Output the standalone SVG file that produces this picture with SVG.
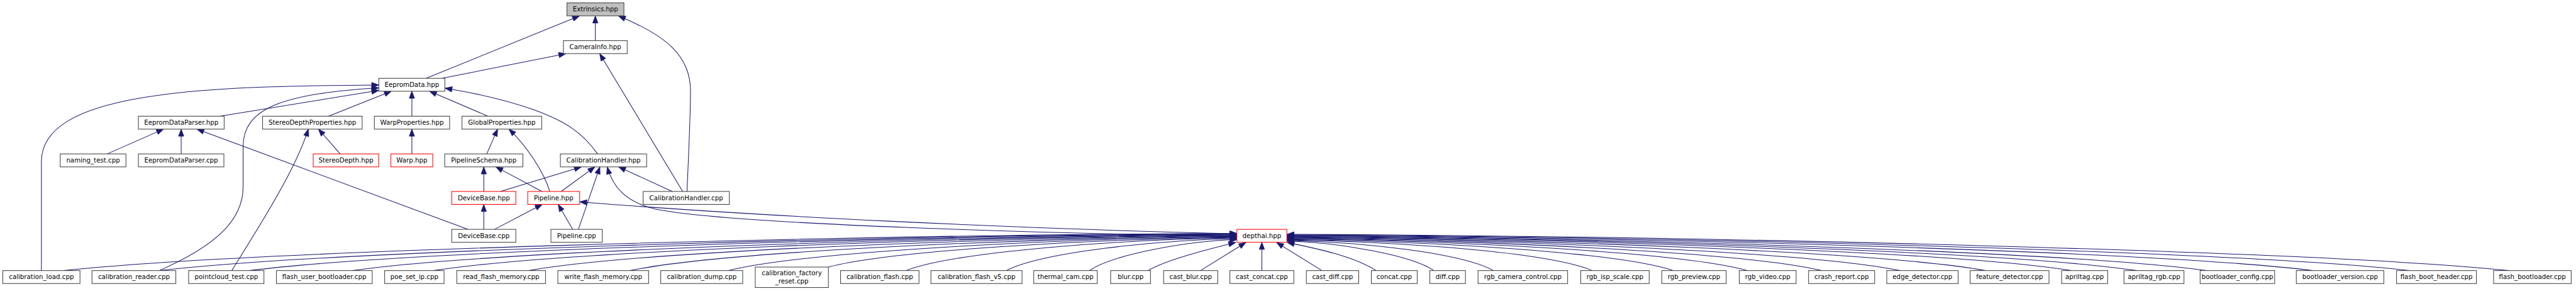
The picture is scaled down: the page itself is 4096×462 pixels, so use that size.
<svg xmlns="http://www.w3.org/2000/svg" width="4096" height="462" viewBox="0 0 4096 462">
<style>
.n rect{fill:#ffffff;stroke:#404040;stroke-width:1.3}
.n.r rect{stroke:#ff0000}
.n.g rect{fill:#bfbfbf}
.n text{font-family:"DejaVu Sans","Liberation Sans",sans-serif;font-size:12.8px;fill:#000000;text-anchor:middle}
#edges path{fill:none;stroke:#191970;stroke-width:1.3;marker-end:url(#arr)}
</style>
<defs>
<marker id="arr" markerUnits="userSpaceOnUse" markerWidth="15" markerHeight="12" refX="14" refY="5.25" orient="auto" overflow="visible">
<path d="M0,0 L14,5.25 L0,10.5 z" fill="#191970" stroke="#191970" stroke-width="1"/>
</marker>
</defs>
<rect x="0" y="0" width="4096" height="462" fill="#ffffff"/>
<g transform="scale(0.802)">
<g id="edges">
<path d="M1180.3,80.5 L1180.3,31.5"/>
<path d="M845,155 L1149,31.5"/>
<path d="M876.7,155 L1121.8,106.2"/>
<path d="M1362,379 C1366,290 1369,230 1369,180 C1369,110 1320,70 1226,31.5"/>
<path d="M1353.5,379 L1189,106.2"/>
<path d="M436,230 L751,179"/>
<path d="M315.7,535.7 C420,490 482,440 482,370 L482,290 C482,215 560,185 751,174"/>
<path d="M82.1,535.7 L82.1,320 C82.1,185 380,170 751,168.3"/>
<path d="M212.4,304.7 L324.3,255.5"/>
<path d="M359.2,304.7 L359.2,255.5"/>
<path d="M927.4,454 L390.3,255.5"/>
<path d="M651.5,230 L776,180.6"/>
<path d="M816.6,230 L816.6,180.6"/>
<path d="M967.4,230 L851.5,180.6"/>
<path d="M1184.8,304.7 C1155,262 1120,240 1060,218 C1000,196 940,184 882.2,174.5"/>
<path d="M674.5,304.7 L631.4,255.5"/>
<path d="M459.5,535.7 C505,462 585,340 611.3,255.5"/>
<path d="M816.6,304.7 L816.6,255.5"/>
<path d="M965,304.7 L986.6,255.5"/>
<path d="M1090,379 C1078,340 1045,290 1009,255.5"/>
<path d="M959.2,379 L959.2,330.3"/>
<path d="M1074.5,379 L983,330.3"/>
<path d="M992,379 L1152.7,330.3"/>
<path d="M1112.5,379 L1179.5,330.3"/>
<path d="M1146.8,454 L1189.3,330.3"/>
<path d="M2452.3,468 C2100,462 1450,445 1300,414 C1240,400 1215,370 1204,330.5"/>
<path d="M1333,379 L1226.3,330.3"/>
<path d="M1135.3,454 L1106.7,404.6"/>
<path d="M980.4,454 L1075,404.6"/>
<path d="M959.2,454 L959.2,404.6"/>
<path d="M2452.3,463 C2000,452 1500,428 1149.3,399.5"/>
<path d="M126,535.7 C475,498 1638,465 2452.3,462"/>
<path d="M316,535.7 C636,498 1704,466 2452.3,463"/>
<path d="M494.6,535.7 C788,498 1767,467 2452.3,464"/>
<path d="M698,535.7 C961,498 1838,468 2452.3,465"/>
<path d="M859,535.7 C1098,498 1894,469 2452.3,466"/>
<path d="M1048,535.7 C1259,498 1961,470 2452.3,467"/>
<path d="M1248.7,535.7 C1429,498 2031,471 2452.3,468"/>
<path d="M1443.5,535.7 C1595,498 2099,472 2452.3,469"/>
<path d="M1642.5,528.7 C1764,496 2169,473 2452.3,470"/>
<path d="M1796,535.7 C1894,498 2222,474 2452.3,471"/>
<path d="M1995,535.7 C2064,500 2292,475 2452.3,472.5"/>
<path d="M2160,535.7 C2204,505 2350,477 2452.3,474.5"/>
<path d="M2276,535.7 C2310,515 2400,492 2450,480"/>
<path d="M2380,535.7 L2470,480"/>
<path d="M2501.8,535.7 L2501.8,479.6"/>
<path d="M2621,535.7 L2531,480"/>
<path d="M2728.6,535.7 C2680,505 2600,490 2552,480"/>
<path d="M2843,535.7 C2799,505 2653,480 2551.3,477"/>
<path d="M2961,535.7 C2899,500 2694,479 2551.3,476"/>
<path d="M3157,535.7 C3066,498 2763,478 2551.3,475"/>
<path d="M3318,535.7 C3203,498 2819,477 2551.3,474"/>
<path d="M3465.3,535.7 C3328,498 2871,476 2551.3,473"/>
<path d="M3611.5,535.7 C3452,498 2922,475 2551.3,472"/>
<path d="M3767.5,535.7 C3585,498 2977,474 2551.3,471"/>
<path d="M3937,535.7 C3729,498 3036,473 2551.3,470"/>
<path d="M4107,535.7 C3874,498 3096,472 2551.3,469"/>
<path d="M4237,535.7 C3984,498 3141,471 2551.3,468"/>
<path d="M4375.5,535.7 C4102,498 3190,470 2551.3,467"/>
<path d="M4585.8,535.7 C4281,498 3263,469 2551.3,466"/>
<path d="M4778,535.7 C4444,498 3331,468 2551.3,465"/>
<path d="M4975,535.7 C4611,498 3399,467 2551.3,464"/>
</g>
<g id="n_extrinsics" class="n g"><rect x="1124" y="5.7" width="113" height="25.6"/><text x="1180.5" y="22.7">Extrinsics.hpp</text></g>
<g id="n_camerainfo" class="n"><rect x="1117" y="80.5" width="126.5" height="25.6"/><text x="1180.3" y="97.5">CameraInfo.hpp</text></g>
<g id="n_eepromdata" class="n"><rect x="751" y="155" width="131" height="25.6"/><text x="816.5" y="172">EepromData.hpp</text></g>
<g id="n_eepromdataparser_hpp" class="n"><rect x="274.4" y="230" width="170" height="25.6"/><text x="359.4" y="247">EepromDataParser.hpp</text></g>
<g id="n_stereodepthproperties" class="n"><rect x="520.6" y="230" width="197.4" height="25.6"/><text x="619.3" y="247">StereoDepthProperties.hpp</text></g>
<g id="n_warpproperties" class="n"><rect x="742.2" y="230" width="149.2" height="25.6"/><text x="816.8" y="247">WarpProperties.hpp</text></g>
<g id="n_globalproperties" class="n"><rect x="916" y="230" width="158" height="25.6"/><text x="995" y="247">GlobalProperties.hpp</text></g>
<g id="n_naming_test" class="n"><rect x="119.4" y="304.7" width="130.3" height="25.6"/><text x="184.6" y="321.7">naming_test.cpp</text></g>
<g id="n_eepromdataparser_cpp" class="n"><rect x="274.4" y="304.7" width="169.5" height="25.6"/><text x="359.2" y="321.7">EepromDataParser.cpp</text></g>
<g id="n_stereodepth" class="n r"><rect x="621" y="304.7" width="129.8" height="25.6"/><text x="685.9" y="321.7">StereoDepth.hpp</text></g>
<g id="n_warp" class="n r"><rect x="775" y="304.7" width="83" height="25.6"/><text x="816.5" y="321.7">Warp.hpp</text></g>
<g id="n_pipelineschema" class="n"><rect x="881.7" y="304.7" width="155" height="25.6"/><text x="959.2" y="321.7">PipelineSchema.hpp</text></g>
<g id="n_calibrationhandler_hpp" class="n"><rect x="1111" y="304.7" width="171" height="25.6"/><text x="1196.5" y="321.7">CalibrationHandler.hpp</text></g>
<g id="n_devicebase_hpp" class="n r"><rect x="895.7" y="379" width="127" height="25.6"/><text x="959.2" y="396">DeviceBase.hpp</text></g>
<g id="n_pipeline_hpp" class="n r"><rect x="1046.3" y="379" width="103" height="25.6"/><text x="1097.8" y="396">Pipeline.hpp</text></g>
<g id="n_calibrationhandler_cpp" class="n"><rect x="1275" y="379" width="171" height="25.6"/><text x="1360.5" y="396">CalibrationHandler.cpp</text></g>
<g id="n_devicebase_cpp" class="n"><rect x="895.7" y="454" width="127" height="25.6"/><text x="959.2" y="471">DeviceBase.cpp</text></g>
<g id="n_pipeline_cpp" class="n"><rect x="1092.3" y="454" width="101.7" height="25.6"/><text x="1143.2" y="471">Pipeline.cpp</text></g>
<g id="n_depthai" class="n r"><rect x="2452.3" y="454" width="99" height="25.6"/><text x="2501.8" y="471">depthai.hpp</text></g>
<g id="n_calibration_load" class="n"><rect x="5.6" y="535.7" width="153" height="25.6"/><text x="82.1" y="552.7">calibration_load.cpp</text></g>
<g id="n_calibration_reader" class="n"><rect x="182.4" y="535.7" width="166.2" height="25.6"/><text x="265.5" y="552.7">calibration_reader.cpp</text></g>
<g id="n_pointcloud_test" class="n"><rect x="374" y="535.7" width="149.3" height="25.6"/><text x="448.7" y="552.7">pointcloud_test.cpp</text></g>
<g id="n_flash_user_bootloader" class="n"><rect x="548" y="535.7" width="190" height="25.6"/><text x="643" y="552.7">flash_user_bootloader.cpp</text></g>
<g id="n_poe_set_ip" class="n"><rect x="762.6" y="535.7" width="117.8" height="25.6"/><text x="821.5" y="552.7">poe_set_ip.cpp</text></g>
<g id="n_read_flash_memory" class="n"><rect x="905.6" y="535.7" width="176" height="25.6"/><text x="993.6" y="552.7">read_flash_memory.cpp</text></g>
<g id="n_write_flash_memory" class="n"><rect x="1106" y="535.7" width="180" height="25.6"/><text x="1196" y="552.7">write_flash_memory.cpp</text></g>
<g id="n_calibration_dump" class="n"><rect x="1310" y="535.7" width="162.5" height="25.6"/><text x="1391.3" y="552.7">calibration_dump.cpp</text></g>
<g id="n_calibration_factory_reset" class="n"><rect x="1497.4" y="528.7" width="145" height="40.5"/><text x="1569.9" y="545.5">calibration_factory</text><text x="1569.9" y="560.5">_reset.cpp</text></g>
<g id="n_calibration_flash" class="n"><rect x="1666.5" y="535.7" width="155.5" height="25.6"/><text x="1744.3" y="552.7">calibration_flash.cpp</text></g>
<g id="n_calibration_flash_v5" class="n"><rect x="1845.6" y="535.7" width="180.7" height="25.6"/><text x="1936" y="552.7">calibration_flash_v5.cpp</text></g>
<g id="n_thermal_cam" class="n"><rect x="2049.5" y="535.7" width="126" height="25.6"/><text x="2112.5" y="552.7">thermal_cam.cpp</text></g>
<g id="n_blur" class="n"><rect x="2202" y="535.7" width="79" height="25.6"/><text x="2241.5" y="552.7">blur.cpp</text></g>
<g id="n_cast_blur" class="n"><rect x="2307" y="535.7" width="107.3" height="25.6"/><text x="2360.7" y="552.7">cast_blur.cpp</text></g>
<g id="n_cast_concat" class="n"><rect x="2438.4" y="535.7" width="126.8" height="25.6"/><text x="2501.8" y="552.7">cast_concat.cpp</text></g>
<g id="n_cast_diff" class="n"><rect x="2590" y="535.7" width="103.8" height="25.6"/><text x="2641.9" y="552.7">cast_diff.cpp</text></g>
<g id="n_concat" class="n"><rect x="2718.8" y="535.7" width="91" height="25.6"/><text x="2764.3" y="552.7">concat.cpp</text></g>
<g id="n_diff" class="n"><rect x="2834.8" y="535.7" width="70.6" height="25.6"/><text x="2870.1" y="552.7">diff.cpp</text></g>
<g id="n_rgb_camera_control" class="n"><rect x="2930.4" y="535.7" width="177.6" height="25.6"/><text x="3019.2" y="552.7">rgb_camera_control.cpp</text></g>
<g id="n_rgb_isp_scale" class="n"><rect x="3134" y="535.7" width="135.7" height="25.6"/><text x="3201.9" y="552.7">rgb_isp_scale.cpp</text></g>
<g id="n_rgb_preview" class="n"><rect x="3294.7" y="535.7" width="127.7" height="25.6"/><text x="3358.6" y="552.7">rgb_preview.cpp</text></g>
<g id="n_rgb_video" class="n"><rect x="3448.3" y="535.7" width="112.7" height="25.6"/><text x="3504.7" y="552.7">rgb_video.cpp</text></g>
<g id="n_crash_report" class="n"><rect x="3585.7" y="535.7" width="131" height="25.6"/><text x="3651.2" y="552.7">crash_report.cpp</text></g>
<g id="n_edge_detector" class="n"><rect x="3740.7" y="535.7" width="141.6" height="25.6"/><text x="3811.5" y="552.7">edge_detector.cpp</text></g>
<g id="n_feature_detector" class="n"><rect x="3906" y="535.7" width="156.4" height="25.6"/><text x="3984.2" y="552.7">feature_detector.cpp</text></g>
<g id="n_apriltag" class="n"><rect x="4087.4" y="535.7" width="91.3" height="25.6"/><text x="4133" y="552.7">apriltag.cpp</text></g>
<g id="n_apriltag_rgb" class="n"><rect x="4211" y="535.7" width="119" height="25.6"/><text x="4270.5" y="552.7">apriltag_rgb.cpp</text></g>
<g id="n_bootloader_config" class="n"><rect x="4362" y="535.7" width="147.8" height="25.6"/><text x="4435.9" y="552.7">bootloader_config.cpp</text></g>
<g id="n_bootloader_version" class="n"><rect x="4552.7" y="535.7" width="173.6" height="25.6"/><text x="4639.5" y="552.7">bootloader_version.cpp</text></g>
<g id="n_flash_boot_header" class="n"><rect x="4751.4" y="535.7" width="158.4" height="25.6"/><text x="4830.6" y="552.7">flash_boot_header.cpp</text></g>
<g id="n_flash_bootloader" class="n"><rect x="4943.8" y="535.7" width="153.9" height="25.6"/><text x="5020.7" y="552.7">flash_bootloader.cpp</text></g>
</g>
</svg>
